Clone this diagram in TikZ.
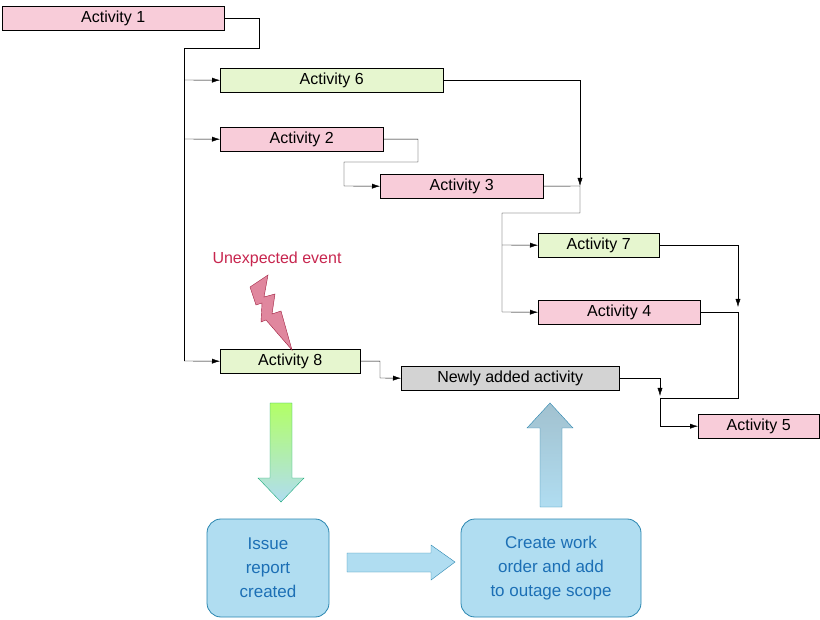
\documentclass[tikz,border=0pt]{standalone}
\usepackage{fontspec}
\setmainfont{Liberation Sans}
\usetikzlibrary{arrows.meta,shapes.arrows}
\begin{document}
\begin{tikzpicture}[x=1pt,y=-1pt,
    act/.style={draw,anchor=north west,minimum height=24pt,inner sep=0pt,font=\fontsize{16}{18}\selectfont},
    pinkact/.style={act,fill=pinkbox},
    greenact/.style={act,fill=greenbox},
    flow/.style={-{Latex[length=8pt,width=5pt]}},
    bigbox/.style={draw=boxline,thick,fill=boxfill,rounded corners=14pt,align=center,
      text=boxtext,font=\fontsize{17}{24}\selectfont,inner sep=0pt}]
    % colores
    \definecolor{pinkbox}{HTML}{F8CCD9}
    \definecolor{greenbox}{HTML}{E6F6CF}
    \definecolor{graybox}{HTML}{D3D3D3}
    \definecolor{boxfill}{HTML}{B0DDF1}
    \definecolor{boxline}{HTML}{2A86B0}
    \definecolor{boxtext}{HTML}{1C6FB5}
    \definecolor{eventred}{HTML}{C7254E}
    \useasboundingbox (0,0) rectangle (820,620);

    % actividades
    \node[pinkact,minimum width=222pt] (a1) at (2,6) {Activity 1};
    \node[greenact,minimum width=223pt] (a6) at (220,68) {Activity 6};
    \node[pinkact,minimum width=163pt] (a2) at (220,127) {Activity 2};
    \node[pinkact,minimum width=163pt] (a3) at (380,174) {Activity 3};
    \node[greenact,minimum width=121pt] (a7) at (538,233) {Activity 7};
    \node[pinkact,minimum width=162pt] (a4) at (538,300) {Activity 4};
    \node[greenact,minimum width=140pt] (a8) at (220,349) {Activity 8};
    \node[act,fill=graybox,minimum width=218pt] (new) at (401,366) {Newly added activity};
    \node[pinkact,minimum width=121pt] (a5) at (698,414) {Activity 5};

    % puntos de union
    \coordinate (j1) at (184,48);
    \coordinate (j2) at (580,186);
    \coordinate (j3) at (502,213);
    \coordinate (j4) at (738,307);
    \coordinate (j5) at (660,396);

    % conectores
    \draw (a1.east) -| (259,48) -- (j1) -- (184,361);
    \draw[flow] (184,80) -- (a6.west);
    \draw[flow] (184,139) -- (a2.west);
    \draw[flow] (184,361) -- (a8.west);
    \draw[flow] (a6.east) -| (j2);
    \draw[flow] (a2.east) -| (418,162) -| (344,186) -- (a3.west);
    \draw (a3.east) -- (j2) |- (j3) -- (502,312);
    \draw[flow] (502,245) -- (a7.west);
    \draw[flow] (502,312) -- (a4.west);
    \draw[flow] (a7.east) -| (j4);
    \draw (a4.east) -| (738,398) -- (660,398);
    \draw[flow] (a8.east) -| (380,378) -- (new.west);
    \draw[flow] (new.east) -| (j5);
    \draw[flow] (660,398) |- (a5.west);

    % evento inesperado
    \node[text=eventred,font=\fontsize{16}{18}\selectfont] (ev) at (277,259) {Unexpected event};
    \draw[eventred!80!black,fill=eventred!55!white,line join=miter]
      (250,287) -- (268,275) -- (264,297) -- (275,294) -- (272,314) -- (281,311)
      -- (292,350) -- (266,320) -- (261,322) -- (262,303) -- (256,305) -- cycle;

    % flechas grandes
    \shade[top color=green!50!yellow!60!white,bottom color=boxfill,draw=boxline!70!green]
      (270,403) -- (292,403) -- (292,478) -- (304,478) -- (281,502) -- (258,478) -- (270,478) -- cycle;
    \draw[boxline,fill=boxfill] (347,553) -- (431,553) -- (431,545) -- (455,562)
      -- (431,580) -- (431,572) -- (347,572) -- cycle;
    \shade[top color=boxfill!70!gray,bottom color=boxfill,draw=boxline]
      (540,507) -- (562,507) -- (562,428) -- (573,428) -- (550,403) -- (527,428) -- (540,428) -- cycle;

    % cajas
    \node[bigbox,minimum width=122pt,minimum height=98pt] (issue) at (268,568)
      {Issue\\report\\created};
    \node[bigbox,minimum width=180pt,minimum height=98pt] (order) at (551,568)
      {Create work\\order and add\\to outage scope};
\end{tikzpicture}
\end{document}
